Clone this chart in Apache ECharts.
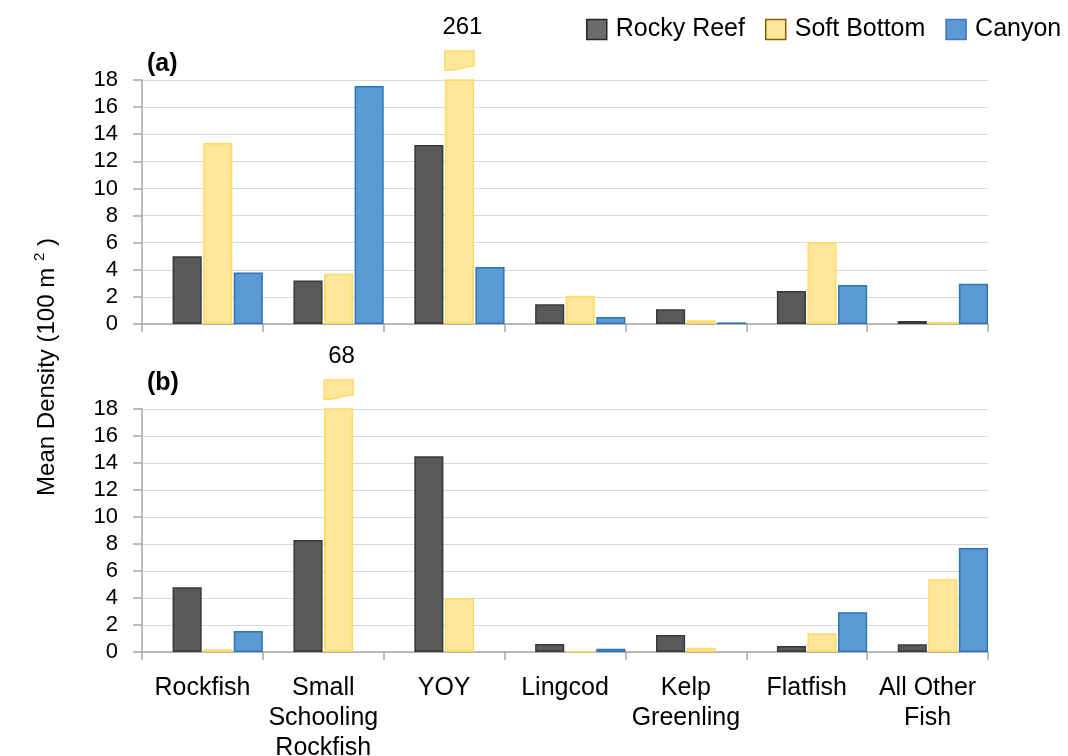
<!DOCTYPE html>
<html>
<head>
<meta charset="utf-8">
<script src="https://cdn.jsdelivr.net/npm/echarts@6/dist/echarts.min.js"></script>
<style>
  html, body { margin: 0; background: #fff; }
  #chart { width: 1068px; height: 756px; }
</style>
</head>
<body>
<div id="chart"></div>
<script>
// categories shared by both panels
const categories = ['Rockfish', 'Small\nSchooling\nRockfish', 'YOY', 'Lingcod', 'Kelp\nGreenling', 'Flatfish', 'All Other\nFish'];
const habitats = ['Rocky Reef', 'Soft Bottom', 'Canyon'];

// panel (a)
const rockyA = [5.0, 3.2, 13.2, 1.45, 1.08, 2.43, 0.22];
const softA = [13.35, 3.7, 261, 2.09, 0.27, 6.05, 0.15];
const canyonA = [3.8, 17.55, 4.2, 0.52, 0.12, 2.88, 2.97];

// panel (b)
const rockyB = [4.79, 8.3, 14.5, 0.59, 1.26, 0.44, 0.57];
const softB = [0.2, 68, 4.0, 0.02, 0.32, 1.38, 5.38];
const canyonB = [1.56, 0, 0, 0.25, 0, 2.94, 7.7];

const yMax = 18;

const FONT = 'Liberation Sans, Arial, sans-serif';
const GAP = 0.05; // barGap as fraction of bar width

const chart = echarts.init(document.getElementById('chart'));

const styles = {
  'Rocky Reef': { color: '#595959', borderColor: '#383838', borderWidth: 1.5 },
  'Soft Bottom': { color: '#FFE699', borderColor: '#FFD966', borderWidth: 1.5 },
  'Canyon': { color: '#5B9BD5', borderColor: '#2E75B6', borderWidth: 1.5 }
};

function xAxisFor(idx, showLabels) {
  return {
    type: 'category',
    gridIndex: idx,
    data: categories,
    axisLine: { lineStyle: { color: '#a6a6a6', width: 1.5 } },
    axisTick: { show: true, length: 8, lineStyle: { color: '#a6a6a6', width: 1.5 } },
    axisLabel: {
      show: showLabels, interval: 0, color: '#000', fontSize: 25,
      lineHeight: 30, fontFamily: FONT, margin: 21
    }
  };
}

function yAxisFor(idx) {
  return {
    type: 'value',
    gridIndex: idx,
    min: 0, max: yMax, interval: 2,
    axisLine: { show: true, lineStyle: { color: '#a6a6a6', width: 1.5 } },
    axisTick: { show: true, length: 9, lineStyle: { color: '#a6a6a6', width: 1.5 } },
    axisLabel: { color: '#000', fontSize: 22, fontFamily: FONT, margin: 24 },
    splitLine: { lineStyle: { color: '#d9d9d9', width: 1.2 } }
  };
}

// broken bar: a small cut piece above the plot with the real value
function brokenSeries(idx, values) {
  const data = [];
  values.forEach((v, i) => { if (v > yMax) data.push([i, v]); });
  return {
    type: 'custom',
    xAxisIndex: idx, yAxisIndex: idx,
    data: data,
    clip: false,
    silent: true,
    renderItem: function (params, api) {
      const base = api.coord([api.value(0), 0]);
      const catW = api.size([1, 0])[0];
      const slot = catW / (4 + 3 * GAP);
      const xl = base[0] - catW / 2 + 2 * slot * (1 + GAP);
      const xr = xl + slot;
      const top = params.coordSys.y;
      const t = top - 29;
      const path = 'M' + xl + ' ' + t + 'L' + xr + ' ' + t +
        'L' + xr + ' ' + (top - 14) +
        'C' + (xl + slot * 0.6) + ' ' + (top - 14) + ' ' + (xl + slot * 0.4) + ' ' + (top - 8) + ' ' + xl + ' ' + (top - 10) + 'Z';
      return {
        type: 'group',
        children: [
          { type: 'path', shape: { pathData: path },
            style: { fill: '#FFE699', stroke: '#FFD966', lineWidth: 1.5 } },
          { type: 'text',
            style: { text: String(api.value(1)), x: (xl + xr) / 2 + 3, y: top - 53,
              align: 'center', verticalAlign: 'middle', fill: '#000',
              font: '24px ' + FONT } }
        ]
      };
    }
  };
}

function barSeries(idx, rocky, soft, canyon) {
  const vals = [rocky, soft, canyon];
  const out = [{
    type: 'bar', name: '_pad', xAxisIndex: idx, yAxisIndex: idx, data: [],
    barGap: (GAP * 100) + '%', barCategoryGap: '0%'
  }];
  habitats.forEach((h, k) => {
    out.push({
      type: 'bar', name: h, xAxisIndex: idx, yAxisIndex: idx,
      // zero values get no outline so no stray line shows
      data: vals[k].map(v => v === 0 ? { value: 0, itemStyle: { borderWidth: 0 } } : v),
      barGap: (GAP * 100) + '%', barCategoryGap: '0%',
      itemStyle: styles[h]
    });
  });
  return out;
}

const option = {
  animation: false,
  backgroundColor: '#fff',
  textStyle: { fontFamily: FONT },
  legend: {
    left: 581, top: 12,
    itemWidth: 20, itemHeight: 20, itemGap: 20,
    icon: 'rect',
    textStyle: { fontSize: 25, color: '#000', fontFamily: FONT, padding: [0, 0, 0, 4] },
    data: [
      { name: 'Rocky Reef', itemStyle: { color: '#6b6b6b', borderColor: '#262626', borderWidth: 1.5 } },
      { name: 'Soft Bottom', itemStyle: { color: '#FFE699', borderColor: '#7F6000', borderWidth: 1.5 } },
      { name: 'Canyon', itemStyle: { color: '#5B9BD5', borderColor: '#4472C4', borderWidth: 1.5 } }
    ]
  },
  grid: [
    { left: 142, right: 80, top: 80, height: 244, outerBoundsMode: 'none' },
    { left: 142, right: 80, top: 409, height: 243, outerBoundsMode: 'none' }
  ],
  xAxis: [xAxisFor(0, false), xAxisFor(1, true)],
  yAxis: [yAxisFor(0), yAxisFor(1)],
  graphic: [
    { type: 'text', left: 147, top: 52, style: { text: '(a)', font: 'bold 25px ' + FONT, fill: '#000' } },
    { type: 'text', left: 147, top: 371, style: { text: '(b)', font: 'bold 25px ' + FONT, fill: '#000' } },
    {
      type: 'text', x: 47, y: 367, rotation: Math.PI / 2,
      style: {
        text: '{a|Mean Density (100 m }{s|2}{a| )}',
        align: 'center', verticalAlign: 'middle',
        rich: {
          a: { fontSize: 24, fontFamily: FONT, fill: '#000', lineHeight: 30 },
          s: { fontSize: 15, fontFamily: FONT, fill: '#000', verticalAlign: 'top', lineHeight: 30 }
        }
      }
    }
  ],
  series: [].concat(
    barSeries(0, rockyA, softA, canyonA),
    barSeries(1, rockyB, softB, canyonB),
    [brokenSeries(0, softA), brokenSeries(1, softB)]
  )
};

chart.setOption(option);
</script>
</body>
</html>
